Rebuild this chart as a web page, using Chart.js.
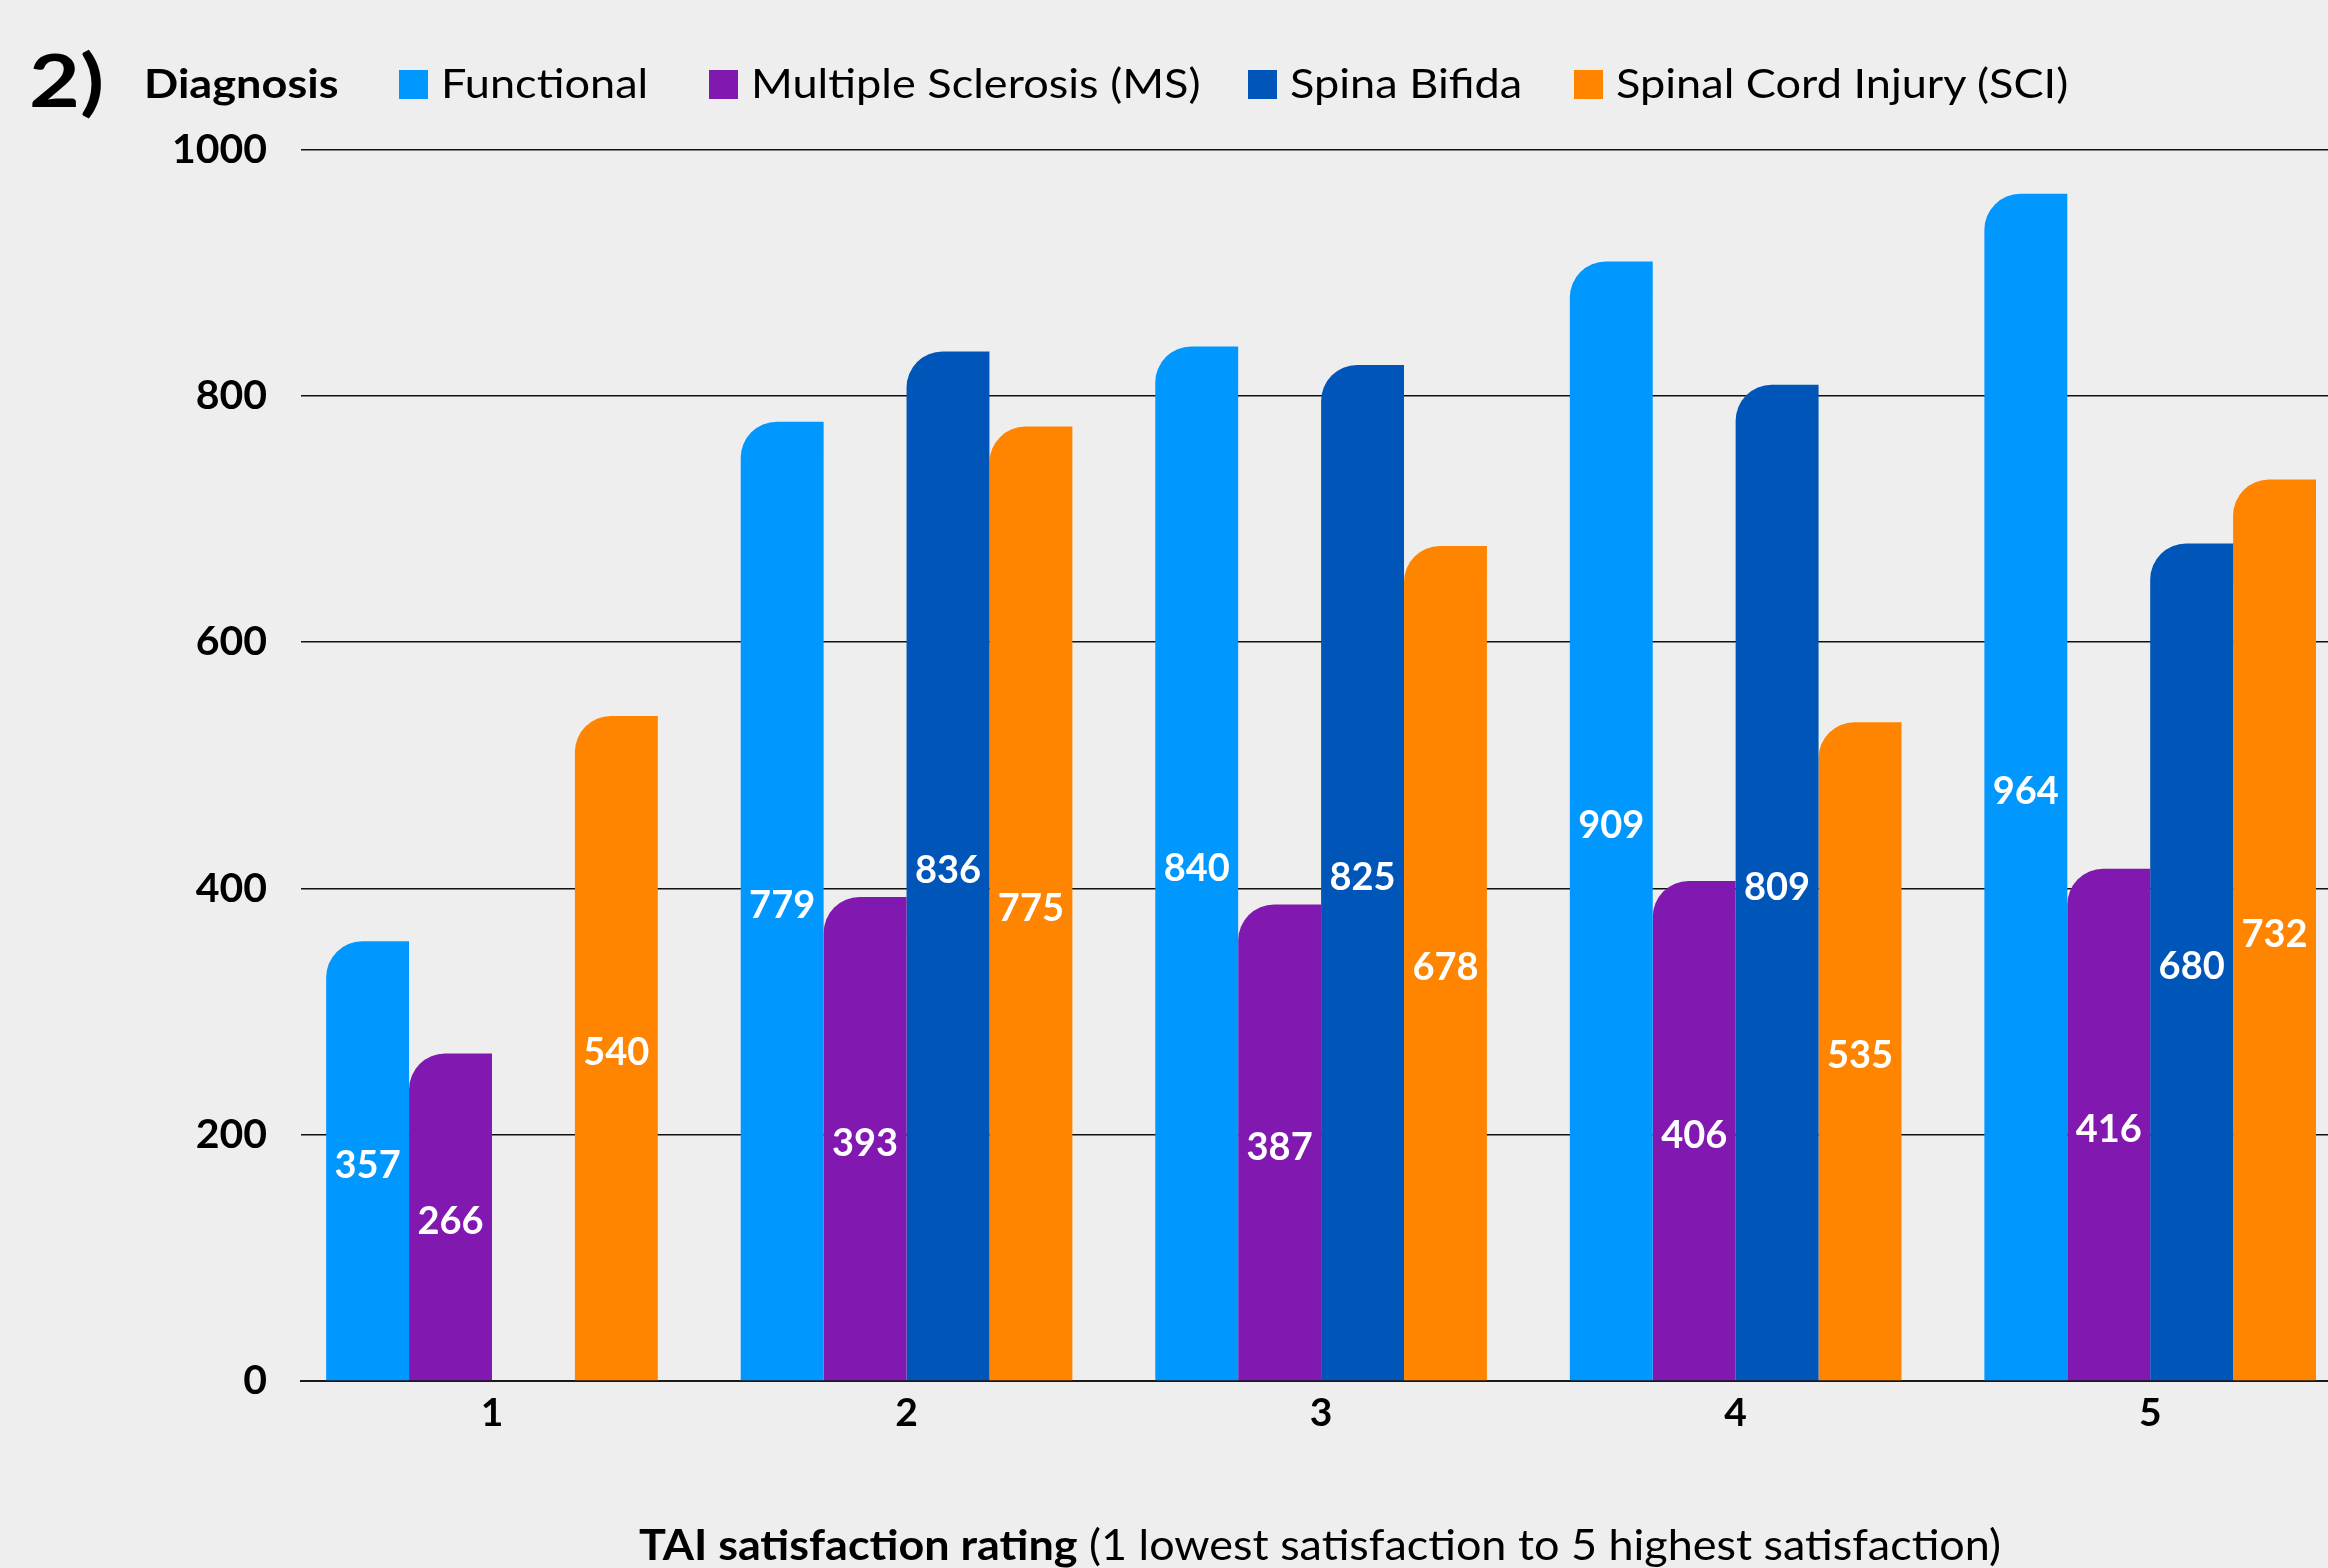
<!DOCTYPE html>
<html>
<head>
<meta charset="utf-8">
<script src="https://cdn.jsdelivr.net/npm/chart.js@4.4.1/dist/chart.umd.min.js"></script>
<style>
  html, body { margin: 0; padding: 0; background: #eeeeee; overflow: hidden; }
  #wrap { position: relative; width: 2328px; height: 1568px; background: #eeeeee; }
  #wrap canvas { position: absolute; left: 0; top: 0; }
  .txt { position: absolute; font-family: Lato, sans-serif; color: #000; white-space: nowrap; line-height: 1; margin: 0;
         transform: scaleX(1.1); transform-origin: 0 0; }
  .num { left: 29px; top: 43px; font-size: 72px; font-weight: 700; transform: scaleX(1.22); }
  .lg { top: 62px; font-size: 41px; font-weight: 400; }
  .lgt { top: 62px; font-size: 41px; font-weight: 700; }
  .sw { position: absolute; top: 70px; width: 29px; height: 29px; }
  .xt { top: 1523px; left: 306px; width: 2028px; text-align: center; font-size: 42px; transform: scaleX(1.07); transform-origin: 50% 0; }
</style>
</head>
<body>
<div id="wrap">
  <canvas id="chart" width="2328" height="1568"></canvas>
  <div class="txt num">2)</div>
  <div class="txt lgt" style="left:144px">Diagnosis</div>
  <div id="legend"></div>
  <div class="txt xt"><b>TAI satisfaction rating</b> (1 lowest satisfaction to 5 highest satisfaction)</div>
</div>
<script>
// Satisfaction ratings on the x axis
const categories = [1, 2, 3, 4, 5];

// Counts per rating for each diagnosis group
const functional  = [357, 779, 840, 909, 964];
const ms          = [266, 393, 387, 406, 416];
const spinaBifida = [null, 836, 825, 809, 680];
const sci         = [540, 775, 678, 535, 732];

const seriesNames  = ['Functional', 'Multiple Sclerosis (MS)', 'Spina Bifida', 'Spinal Cord Injury (SCI)'];
const seriesColors = ['#0098ff', '#8118b0', '#0055b8', '#ff8400'];
const seriesData   = [functional, ms, spinaBifida, sci];

// y axis ticks
const yTicks = [0, 200, 400, 600, 800, 1000];

// Legend row (swatch left, label left)
const legendSlots = [[399, 441], [709, 751], [1248, 1290], [1574, 1616]];
const legendEl = document.getElementById('legend');
seriesNames.forEach((name, i) => {
  const sw = document.createElement('div');
  sw.className = 'sw';
  sw.style.left = legendSlots[i][0] + 'px';
  sw.style.background = seriesColors[i];
  legendEl.appendChild(sw);
  const t = document.createElement('div');
  t.className = 'txt lg';
  t.style.left = legendSlots[i][1] + 'px';
  t.textContent = name;
  legendEl.appendChild(t);
});

// White value labels centred inside each bar
const valueLabels = {
  id: 'valueLabels',
  afterDatasetsDraw(chart) {
    const ctx = chart.ctx;
    ctx.save();
    ctx.font = '700 38px Lato, sans-serif';
    ctx.fillStyle = '#ffffff';
    ctx.textAlign = 'center';
    ctx.textBaseline = 'middle';
    chart.data.datasets.forEach((ds, i) => {
      const meta = chart.getDatasetMeta(i);
      meta.data.forEach((bar, j) => {
        const v = ds.data[j];
        if (v === null || v === undefined) return;
        ctx.fillText(String(v), bar.x, (bar.y + bar.base) / 2 + 5);
      });
    });
    ctx.restore();
  }
};

new Chart(document.getElementById('chart'), {
  type: 'bar',
  data: {
    labels: categories,
    datasets: seriesNames.map((name, i) => ({
      label: name,
      data: seriesData[i],
      backgroundColor: seriesColors[i],
      borderWidth: 0,
      borderSkipped: 'start',
      borderRadius: { topLeft: 36, topRight: 0, bottomLeft: 0, bottomRight: 0 },
      categoryPercentage: 0.8,
      barPercentage: 1.0
    }))
  },
  options: {
    responsive: false,
    animation: false,
    devicePixelRatio: 1,
    layout: { padding: { top: 149.5, right: 0, bottom: 0, left: 0 } },
    plugins: { legend: { display: false }, tooltip: { enabled: false } },
    scales: {
      x: {
        type: 'linear',
        bounds: 'data',
        offset: false,
        min: 0.5393,
        max: 5.4289,
        grid: { display: false, drawTicks: false, offset: false },
        border: { display: true, color: '#1a1a1a', width: 2 },
        afterBuildTicks(scale) { scale.ticks = categories.map(v => ({ value: v })); },
        afterFit(scale) { scale.height = 187; },
        ticks: {
          padding: 9,
          color: '#000',
          font: { family: 'Lato', size: 39, weight: '700' },
          callback: v => String(v)
        }
      },
      y: {
        min: 0,
        max: 1000,
        afterBuildTicks(scale) { scale.ticks = yTicks.map(v => ({ value: v })); },
        afterFit(scale) { scale.width = 301; },
        grid: { color: '#111111', lineWidth: 1.5, drawTicks: false },
        border: { display: false },
        ticks: {
          padding: 34,
          color: '#000',
          font: { family: 'Lato', size: 41, weight: '700' },
          callback: v => String(v)
        }
      }
    }
  },
  plugins: [valueLabels]
});
</script>
</body>
</html>
